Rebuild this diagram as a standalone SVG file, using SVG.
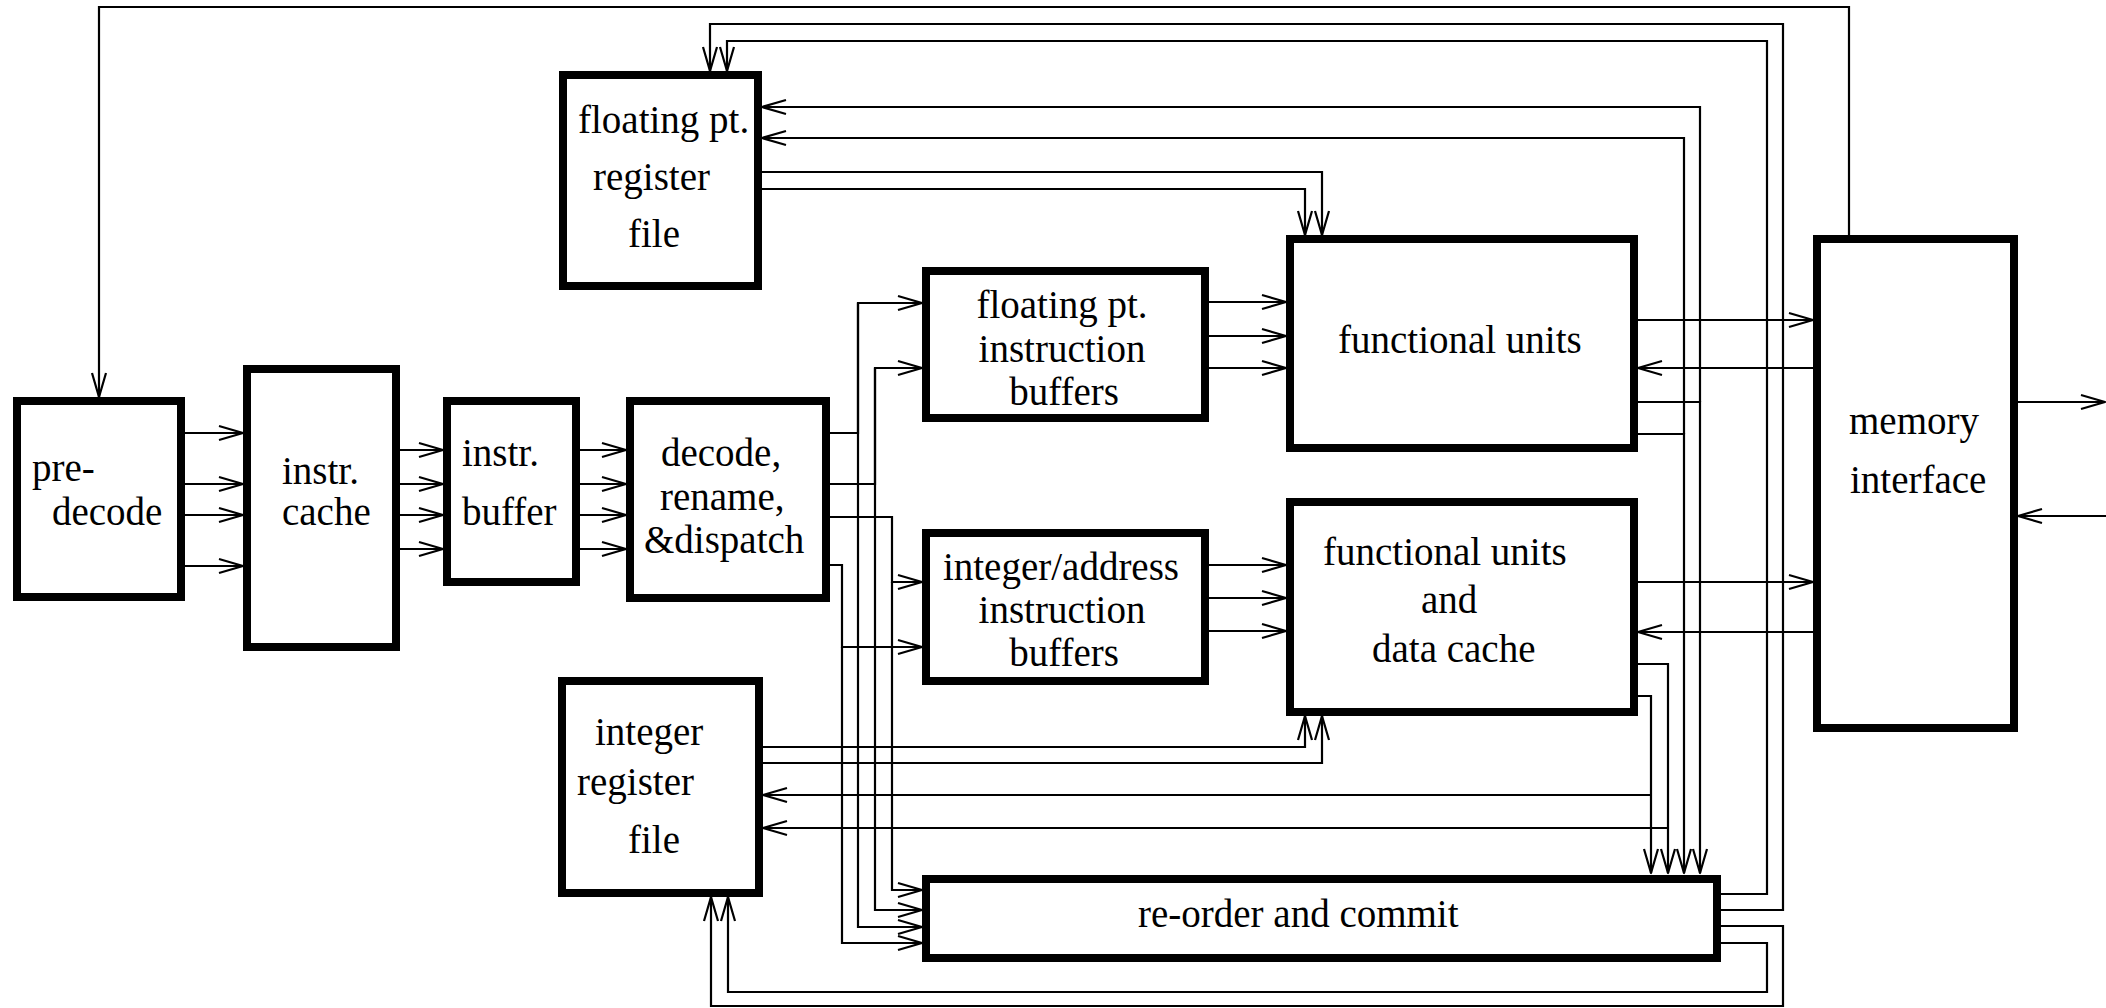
<svg xmlns="http://www.w3.org/2000/svg" width="2106" height="1008" viewBox="0 0 2106 1008">
<style>
.box{fill:#fff;stroke:#000;stroke-width:8}
.lbl{font-family:"Liberation Serif","Times New Roman",serif;font-size:39px;fill:#000}
.mid{text-anchor:middle}
.c{fill:none;stroke:#000;stroke-width:2.2}
.a{marker-end:url(#arr)}
</style>
<defs>
<marker id="arr" markerUnits="userSpaceOnUse" markerWidth="30" markerHeight="20" refX="27" refY="10" orient="auto" overflow="visible">
<path d="M3,3 L27,10 L3,17" fill="none" stroke="#000" stroke-width="2.2" stroke-linejoin="round"/>
</marker>
</defs>
<rect width="2106" height="1008" fill="#fff"/>

<g id="predecode"><rect class="box" x="17" y="401" width="164" height="196"/><text class="lbl" x="32" y="481">pre-</text><text class="lbl" x="52" y="525">decode</text></g>
<g id="icache"><rect class="box" x="247" y="369" width="149" height="278"/><text class="lbl" x="282" y="484">instr.</text><text class="lbl" x="282" y="525">cache</text></g>
<g id="ibuffer"><rect class="box" x="447" y="401" width="129" height="181"/><text class="lbl" x="462" y="466">instr.</text><text class="lbl" x="462" y="525">buffer</text></g>
<g id="decode"><rect class="box" x="630" y="401" width="196" height="197"/><text class="lbl" x="661" y="466">decode,</text><text class="lbl" x="660" y="510">rename,</text><text class="lbl" x="644" y="553">&amp;dispatch</text></g>
<g id="fpreg"><rect class="box" x="563" y="75" width="195" height="211"/><text class="lbl" x="578" y="133">floating pt.</text><text class="lbl" x="593" y="190">register</text><text class="lbl" x="628" y="247">file</text></g>
<g id="fpbuf"><rect class="box" x="926" y="271" width="279" height="147"/><text class="lbl mid" x="1062" y="318">floating pt.</text><text class="lbl mid" x="1062" y="362">instruction</text><text class="lbl mid" x="1064" y="405">buffers</text></g>
<g id="intbuf"><rect class="box" x="926" y="533" width="279" height="148"/><text class="lbl mid" x="1061" y="580">integer/address</text><text class="lbl mid" x="1062" y="623">instruction</text><text class="lbl mid" x="1064" y="666">buffers</text></g>
<g id="fu"><rect class="box" x="1290" y="239" width="344" height="209"/><text class="lbl" x="1338" y="353">functional units</text></g>
<g id="fudc"><rect class="box" x="1290" y="502" width="344" height="210"/><text class="lbl" x="1323" y="565">functional units</text><text class="lbl" x="1421" y="613">and</text><text class="lbl" x="1372" y="662">data cache</text></g>
<g id="memory"><rect class="box" x="1817" y="239" width="197" height="489"/><text class="lbl" x="1849" y="434">memory</text><text class="lbl" x="1850" y="493">interface</text></g>
<g id="intreg"><rect class="box" x="562" y="681" width="197" height="212"/><text class="lbl" x="595" y="745">integer</text><text class="lbl" x="577" y="795">register</text><text class="lbl" x="628" y="853">file</text></g>
<g id="reorder"><rect class="box" x="926" y="879" width="791" height="79"/><text class="lbl" x="1138" y="927">re-order and commit</text></g>

<g id="connectors">
<path class="c a" d="M1849,235 V7 H99 V397"/>
<path class="c a" d="M185,433 H243"/>
<path class="c a" d="M185,484 H243"/>
<path class="c a" d="M185,515 H243"/>
<path class="c a" d="M185,566 H243"/>
<path class="c a" d="M400,450 H443"/>
<path class="c a" d="M400,484 H443"/>
<path class="c a" d="M400,515 H443"/>
<path class="c a" d="M400,549 H443"/>
<path class="c a" d="M580,450 H626"/>
<path class="c a" d="M580,484 H626"/>
<path class="c a" d="M580,515 H626"/>
<path class="c a" d="M580,549 H626"/>
<path class="c a" d="M830,433 H858 V303 H922"/>
<path class="c a" d="M858,303 V927 H922"/>
<path class="c a" d="M830,484 H875 V368 H922"/>
<path class="c a" d="M875,368 V910 H922"/>
<path class="c a" d="M830,517 H892 V582 H922"/>
<path class="c a" d="M892,582 V890 H922"/>
<path class="c a" d="M830,565 H842 V647 H922"/>
<path class="c a" d="M842,647 V943 H922"/>
<path class="c a" d="M1209,302 H1286"/>
<path class="c a" d="M1209,336 H1286"/>
<path class="c a" d="M1209,368 H1286"/>
<path class="c a" d="M1209,565 H1286"/>
<path class="c a" d="M1209,598 H1286"/>
<path class="c a" d="M1209,631 H1286"/>
<path class="c a" d="M1638,320 H1813"/>
<path class="c a" d="M1813,368 H1638"/>
<path class="c a" d="M1638,582 H1813"/>
<path class="c a" d="M1813,632 H1638"/>
<path class="c a" d="M2018,402 H2105"/>
<path class="c a" d="M2106,516 H2018"/>
<path class="c a" d="M762,172 H1322 V235"/>
<path class="c a" d="M762,189 H1305 V235"/>
<path class="c a" d="M1638,402 H1700 V873"/>
<path class="c a" d="M1700,402 V107 H762"/>
<path class="c a" d="M1638,434 H1684 V873"/>
<path class="c a" d="M1684,434 V138 H762"/>
<path class="c a" d="M1638,664 H1668 V873"/>
<path class="c a" d="M1668,828 H763"/>
<path class="c a" d="M1638,696 H1651 V873"/>
<path class="c a" d="M1651,795 H763"/>
<path class="c a" d="M763,747 H1305 V716"/>
<path class="c a" d="M763,763 H1322 V716"/>
<path class="c a" d="M1721,894 H1767 V41 H727 V71"/>
<path class="c a" d="M1721,910 H1783 V24 H710 V71"/>
<path class="c a" d="M1721,926 H1783 V1006 H711 V897"/>
<path class="c a" d="M1721,943 H1767 V992 H728 V897"/>
</g>
</svg>
